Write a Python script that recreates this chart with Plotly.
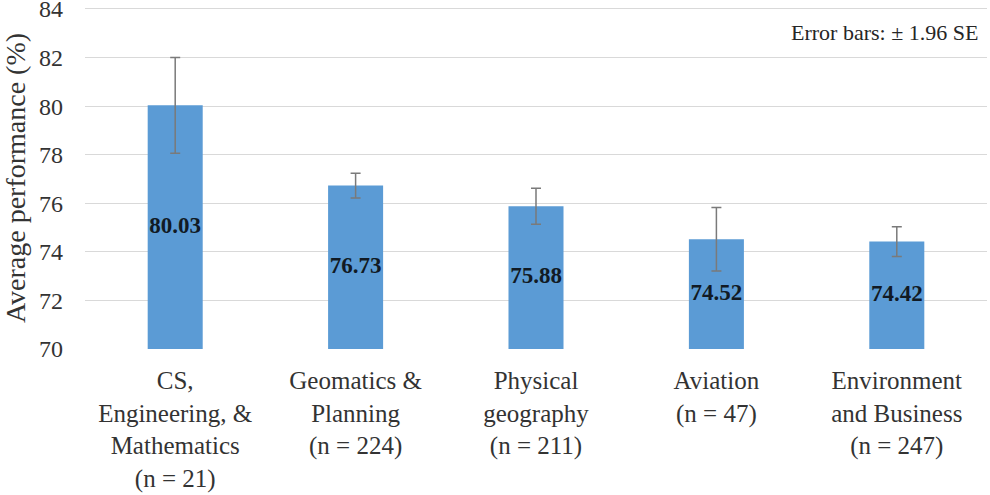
import plotly.graph_objects as go

categories = [
    "CS,<br>Engineering, &<br>Mathematics<br>(n = 21)",
    "Geomatics &<br>Planning<br>(n = 224)",
    "Physical<br>geography<br>(n = 211)",
    "Aviation<br>(n = 47)",
    "Environment<br>and Business<br>(n = 247)",
]
values = [80.03, 76.73, 75.88, 74.52, 74.42]
errors = [1.97, 0.51, 0.74, 1.31, 0.61]
y_min, y_max = 70, 84
y_ticks = [70, 72, 74, 76, 78, 80, 82, 84]

SERIF = "Liberation Serif, Times New Roman, serif"

fig = go.Figure()
fig.add_trace(go.Bar(
    x=categories, y=values,
    marker=dict(color="#5B9BD5", line=dict(width=0)),
    error_y=dict(type="data", array=errors, visible=True,
                 color="#7a7a7a", thickness=1.5, width=5),
    showlegend=False,
))
fig.add_trace(go.Scatter(
    x=categories, y=[(y_min + v) / 2 for v in values],
    mode="text", text=[f"<b>{v:.2f}</b>" for v in values],
    textfont=dict(family=SERIF, size=23, color="#111a24"),
    showlegend=False, hoverinfo="skip",
))

fig.add_annotation(
    text="Error bars: ± 1.96 SE", xref="paper", yref="paper",
    x=0.992, y=0.925, xanchor="right", yanchor="middle", showarrow=False,
    font=dict(family=SERIF, size=22, color="#262626"),
)
fig.add_annotation(
    text="Major field of study", xref="paper", yref="paper",
    x=0.5, y=-0.42, xanchor="center", yanchor="top", showarrow=False,
    font=dict(family=SERIF, size=27, color="#262626"),
)

fig.update_layout(
    width=990, height=495,
    margin=dict(l=85, r=3, t=7, b=146),
    paper_bgcolor="white", plot_bgcolor="white",
    bargap=0.695,
    font=dict(family=SERIF, color="#333333"),
    xaxis=dict(
        tickfont=dict(family=SERIF, size=25, color="#333333"),
        showgrid=False, showline=False, ticks="",
        ticklabelstandoff=14, automargin=False,
    ),
    yaxis=dict(
        range=[y_min - 0.001, y_max + 0.08], tickvals=y_ticks,
        tickfont=dict(family=SERIF, size=24, color="#333333"),
        showgrid=True, gridcolor="#d9d9d9", gridwidth=1,
        zeroline=False, showline=False, ticks="",
        ticklabelstandoff=21, ticklabeloverflow="allow", automargin=False,
        title=dict(text="Average performance (%)", standoff=6,
                   font=dict(family=SERIF, size=28, color="#333333")),
    ),
)

fig.write_html("out.html")
